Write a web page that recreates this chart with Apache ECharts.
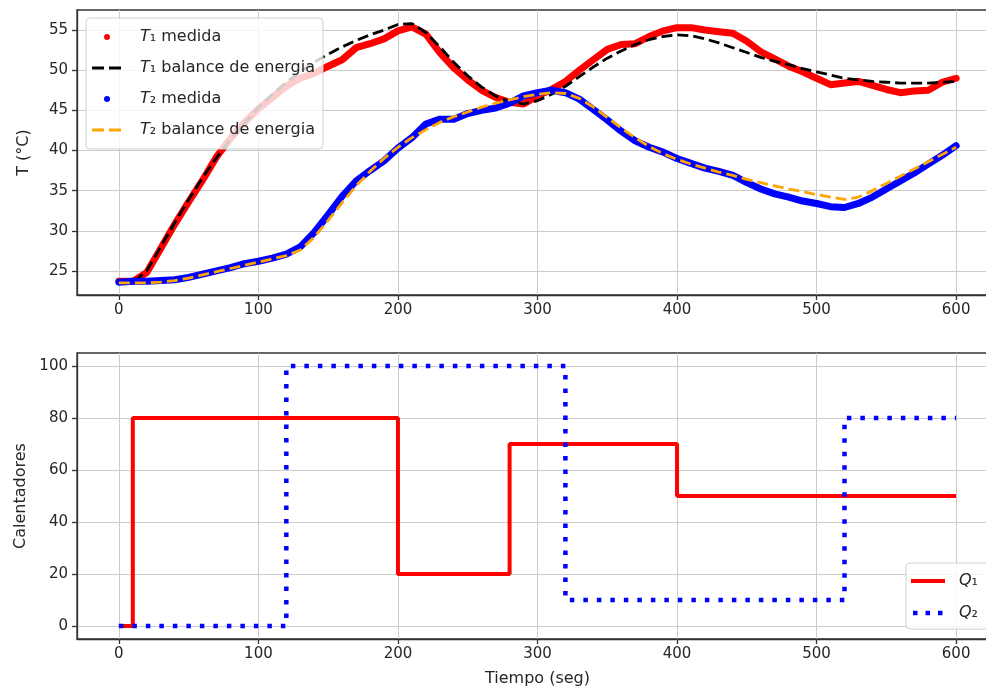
<!DOCTYPE html>
<html><head><meta charset="utf-8">
<script src="https://cdn.jsdelivr.net/npm/echarts@6/dist/echarts.min.js"></script>
<style>html,body{margin:0;padding:0;background:#fff}#c{width:986px;height:691px}</style>
</head><body><div id="c"></div>
<script>
// ---- data ----
const time10 = [0,10,20,30,40,50,60,70,80,90,100,110,120,130,140,150,160,170,180,190,200,210,220,230,240,250,260,270,280,290,300,310,320,330,340,350,360,370,380,390,400,410,420,430,440,450,460,470,480,490,500,510,520,530,540,550,560,570,580,590,600];
const t1Medida = [23.7,23.7,24.8,27.8,30.8,33.6,36.3,39.2,41.5,43.5,45.2,46.6,48.0,49.0,49.6,50.5,51.3,52.8,53.3,53.9,54.9,55.4,54.5,52.2,50.3,48.8,47.5,46.6,46.0,45.8,46.8,47.6,48.6,50.0,51.3,52.6,53.2,53.3,54.2,54.9,55.3,55.3,55.0,54.8,54.6,53.6,52.3,51.4,50.5,49.8,49.0,48.2,48.4,48.6,48.1,47.6,47.2,47.4,47.5,48.5,49.0];
const t1Modelo = [23.5,23.5,25.0,28.0,31.0,33.9,36.6,39.1,41.4,43.4,45.3,47.0,48.5,49.8,51.0,52.0,52.9,53.7,54.4,55.0,55.7,55.8,54.7,52.9,51.0,49.3,47.9,46.8,46.1,45.8,46.2,47.0,48.0,49.2,50.4,51.5,52.4,53.2,53.8,54.2,54.4,54.3,53.9,53.4,52.8,52.2,51.6,51.1,50.7,50.2,49.8,49.4,49.0,48.8,48.6,48.5,48.4,48.4,48.4,48.5,48.6];
const t2Medida = [23.6,23.7,23.7,23.8,23.9,24.2,24.6,25.0,25.4,25.9,26.2,26.6,27.1,28.0,29.8,32.0,34.3,36.2,37.5,38.7,40.3,41.6,43.3,43.9,43.9,44.6,45.0,45.3,45.9,46.8,47.2,47.5,47.2,46.4,45.1,43.8,42.4,41.2,40.4,39.8,39.0,38.4,37.8,37.4,36.9,36.0,35.2,34.6,34.2,33.7,33.4,33.0,32.9,33.4,34.2,35.2,36.2,37.2,38.3,39.4,40.6];
const t2Modelo = [23.5,23.5,23.5,23.6,23.8,24.1,24.5,24.9,25.3,25.7,26.1,26.5,26.9,27.6,29.2,31.3,33.5,35.6,37.4,39.0,40.4,41.6,42.6,43.5,44.2,44.8,45.4,45.9,46.3,46.7,47.0,47.2,47.1,46.5,45.4,44.1,42.8,41.6,40.5,39.6,38.9,38.3,37.8,37.3,36.9,36.4,36.0,35.6,35.2,34.9,34.5,34.2,33.9,34.2,35.0,35.9,36.8,37.7,38.6,39.5,40.4];
const q1Time = [0,10,200,280,400,600];
const q1Vals = [0,80,20,70,50,50];
const q2Time = [0,120,320,520,600];
const q2Vals = [0,100,10,80,80];
const xTicks = [0,100,200,300,400,500,600];
const yTicksT = [25,30,35,40,45,50,55];
const yTicksQ = [0,20,40,60,80,100];
const seriesNames = ['T1 medida','T1 balance de energia','T2 medida','T2 balance de energia','Q1','Q2'];

// ---- chart ----
const zip = (a,b) => a.map((v,i) => [v, b[i]]);
const font = 'DejaVu Sans';
const txt = '#262626';
const axisCol = '#333333';
const gridCol = '#cccccc';
const fs = 15;

function xAx(gi, name) {
  return {
    type:'value', gridIndex:gi, min:-30, max:630,
    name: name || '', nameLocation:'middle', nameGap:32,
    nameTextStyle:{color:txt, fontSize:16, fontFamily:font},
    axisLine:{show:true, onZero:false, lineStyle:{color:axisCol, width:1.3}},
    axisTick:{show:true, length:5, customValues:xTicks, lineStyle:{color:axisCol, width:1.3}},
    axisLabel:{customValues:xTicks, margin:8, color:txt, fontSize:fs, fontFamily:font},
    splitLine:{show:true, lineStyle:{color:gridCol, width:1}}
  };
}
function yAx(gi, name, min, max, ticks, gap) {
  return {
    type:'value', gridIndex:gi, min:min, max:max,
    name:name, nameLocation:'middle', nameGap:gap, nameRotate:90,
    nameTextStyle:{color:txt, fontSize:16, fontFamily:font},
    axisLine:{show:true, onZero:false, lineStyle:{color:axisCol, width:1.3}},
    axisTick:{show:true, length:5, customValues:ticks, lineStyle:{color:axisCol, width:1.3}},
    axisLabel:{customValues:ticks, margin:9, color:txt, fontSize:fs, fontFamily:font},
    splitLine:{show:true, lineStyle:{color:gridCol, width:1}}
  };
}
// legend handle shapes (bounding box fixed by the leading M points)
const dotIcon = 'path://M0,0M30,14M12,7a3,3 0 1,0 6,0a3,3 0 1,0 -6,0z';
const dashIcon = 'path://M0,0M30,14M0,5.6h12v2.8h-12zM17,5.6h12v2.8h-12z';
const solidIcon = 'path://M0,0M34,14M0,5h34v4h-34z';
const dotsIcon = 'path://M0,0M34,14M2,4.75h4.5v4.5h-4.5zM14.5,4.75h4.5v4.5h-4.5zM27,4.75h4.5v4.5h-4.5z';
const labelMap = {
  'T1 medida':'{it|T}{n|\u2081 medida}',
  'T1 balance de energia':'{it|T}{n|\u2081 balance de energia}',
  'T2 medida':'{it|T}{n|\u2082 medida}',
  'T2 balance de energia':'{it|T}{n|\u2082 balance de energia}',
  'Q1':'{it|Q}{n|\u2081}',
  'Q2':'{it|Q}{n|\u2082}'
};
const rich = {
  it:{fontStyle:'italic', fontSize:16, fontFamily:font, color:txt, lineHeight:20},
  n:{fontSize:16, fontFamily:font, color:txt, lineHeight:20}
};
const noBorder = {borderWidth:0};

const option = {
  animation:false,
  backgroundColor:'#ffffff',
  grid:[
    {left:77, right:-12, top:10, bottom:396, show:true, borderColor:axisCol, borderWidth:1.3, backgroundColor:'transparent', outerBoundsMode:'none', containLabel:false},
    {left:77, right:-12, top:353, bottom:52, show:true, borderColor:axisCol, borderWidth:1.3, backgroundColor:'transparent', outerBoundsMode:'none', containLabel:false}
  ],
  xAxis:[xAx(0), xAx(1,'Tiempo (seg)')],
  yAxis:[yAx(0,'T (\u00b0C)',22.0,57.5,yTicksT,45), yAx(1,'Calentadores',-5,105,yTicksQ,45)],
  legend:[
    {
      orient:'vertical', left:86, top:18, selectedMode:false,
      itemWidth:30, itemHeight:14, itemGap:11,
      padding:[9,8,9,6],
      backgroundColor:'rgba(255,255,255,0.8)', borderColor:'#d0d0d0', borderWidth:1, borderRadius:4,
      data:[
        {name:seriesNames[0], icon:dotIcon, itemStyle:noBorder},
        {name:seriesNames[1], icon:dashIcon, itemStyle:noBorder},
        {name:seriesNames[2], icon:dotIcon, itemStyle:noBorder},
        {name:seriesNames[3], icon:dashIcon, itemStyle:noBorder}
      ],
      formatter: n => labelMap[n],
      textStyle:{rich:rich, padding:[0,0,0,13], lineHeight:20}
    },
    {
      orient:'vertical', left:906, top:563, selectedMode:false,
      itemWidth:34, itemHeight:14, itemGap:12,
      padding:[8,12,6,5],
      backgroundColor:'rgba(255,255,255,0.8)', borderColor:'#d0d0d0', borderWidth:1, borderRadius:4,
      data:[{name:seriesNames[4], icon:solidIcon, itemStyle:noBorder},{name:seriesNames[5], icon:dotsIcon, itemStyle:noBorder}],
      formatter: n => labelMap[n],
      textStyle:{rich:rich, padding:[0,0,0,9], lineHeight:20}
    }
  ],
  series:[
    {name:seriesNames[0], type:'line', xAxisIndex:0, yAxisIndex:0, data:zip(time10,t1Medida), symbol:'none',
     color:'#ff0000', itemStyle:{color:'#ff0000'}, lineStyle:{color:'#ff0000', width:7, join:'round', cap:'round'}, emphasis:{disabled:true}},
    {name:seriesNames[1], type:'line', xAxisIndex:0, yAxisIndex:0, data:zip(time10,t1Modelo), symbol:'none', smooth:false,
     color:'#000000', itemStyle:{color:'#000000'}, lineStyle:{color:'#000000', width:2.8, type:[11,5]}, emphasis:{disabled:true}},
    {name:seriesNames[2], type:'line', xAxisIndex:0, yAxisIndex:0, data:zip(time10,t2Medida), symbol:'none',
     color:'#0000ff', itemStyle:{color:'#0000ff'}, lineStyle:{color:'#0000ff', width:7, join:'round', cap:'round'}, emphasis:{disabled:true}},
    {name:seriesNames[3], type:'line', xAxisIndex:0, yAxisIndex:0, data:zip(time10,t2Modelo), symbol:'none',
     color:'#ffa500', itemStyle:{color:'#ffa500'}, lineStyle:{color:'#ffa500', width:2.8, type:[11,5]}, emphasis:{disabled:true}},
    {name:seriesNames[4], type:'line', xAxisIndex:1, yAxisIndex:1, data:zip(q1Time,q1Vals), step:'end', symbol:'none',
     color:'#ff0000', itemStyle:{color:'#ff0000'}, lineStyle:{color:'#ff0000', width:4}, emphasis:{disabled:true}},
    {name:seriesNames[5], type:'line', xAxisIndex:1, yAxisIndex:1, data:zip(q2Time,q2Vals), step:'end', symbol:'none',
     color:'#0000ff', itemStyle:{color:'#0000ff'}, lineStyle:{color:'#0000ff', width:4.5, type:[4.5,9], cap:'butt'}, emphasis:{disabled:true}}
  ]
};
const chart = echarts.init(document.getElementById('c'));
chart.setOption(option);
</script></body></html>
